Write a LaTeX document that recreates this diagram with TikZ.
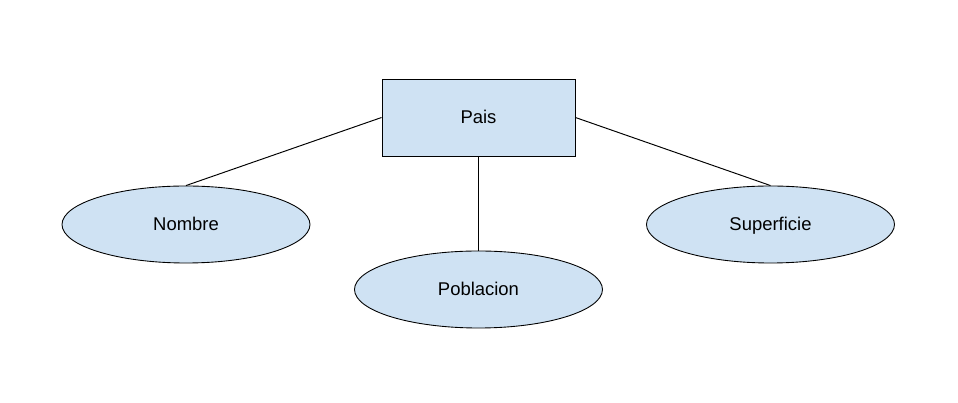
\documentclass[tikz,border=0pt]{standalone}
\usepackage{fontspec}
\setmainfont{Liberation Sans}
\usetikzlibrary{shapes,positioning}
\definecolor{lblue}{RGB}{207,226,243}

\begin{document}
\begin{tikzpicture}[% styles shared by all nodes of the diagram
				every node/.style={
					align=center,		% so that "\\" still breaks a line
					font=\fontsize{10.5}{12}\selectfont,
					text height=0.85em,text depth=0.12em,	% same baseline for every label
					draw=black,fill=lblue,line width=0.5pt
				},
				entity/.style={rectangle,minimum width=3.86cm,minimum height=1.54cm},
				attrib/.style={ellipse,inner sep=0pt,minimum width=4.96cm,minimum height=1.54cm},
				every edge/.style={draw,line width=0.55pt}
			]
			\useasboundingbox (-9.57,2.35) rectangle (9.59,-5.71);
			\node[entity](P){Pais};
			\node[attrib](N) at (-5.85,-2.14){Nombre};
			\node[attrib](B) at (0,-3.44){Poblacion};
			\node[attrib](S) at (5.84,-2.14){Superficie};
			\path
			(P.west)edge []	(N.north)
			(P.south)edge []	(B.north)
			(P.east)edge []	(S.north)
			;
		\end{tikzpicture}
\end{document}
